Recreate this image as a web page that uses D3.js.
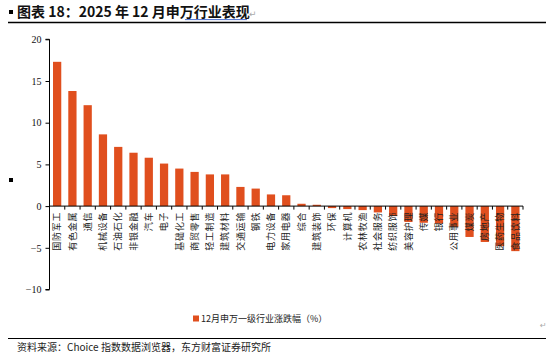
<!DOCTYPE html>
<html><head><meta charset="utf-8">
<script src="https://cdn.jsdelivr.net/npm/d3@7"></script>
<style>
body{margin:0;background:#fff;}
svg{display:block;}
</style></head>
<body>
<svg id="c" width="550" height="355"></svg>
<script>
const categories = ["国防军工","有色金属","通信","机械设备","石油石化","非银金融","汽车","电子","基础化工","商贸零售","轻工制造","建筑材料","交通运输","钢铁","电力设备","家用电器","综合","建筑装饰","环保","计算机","农林牧渔","社会服务","纺织服饰","美容护理","传媒","银行","公用事业","煤炭","房地产","医药生物","食品饮料"];
const values = [17.3,13.8,12.1,8.6,7.1,6.4,5.8,5.1,4.5,4.1,3.8,3.8,2.3,2.1,1.4,1.3,0.28,0.16,-0.24,-0.36,-0.48,-0.76,-1.2,-1.9,-2.0,-2.1,-2.5,-3.7,-4.3,-4.8,-5.4];
const yTicks = [-10,-5,0,5,10,15,20];
const seriesName = "12月申万一级行业涨跌幅（%）";
const title = "图表 18：2025 年 12 月申万行业表现";
const source = "资料来源：Choice 指数数据浏览器，东方财富证券研究所";

const svg = d3.select("#c");
const cjk = "'Noto Sans CJK SC','Noto Sans',sans-serif";
const barColor = "#E04F1E";

const x = d3.scaleBand().domain(categories).range([49.5, 523]).paddingInner(0.46).paddingOuter(0.23);
const y = d3.scaleLinear().domain([-10, 20]).range([289.5, 39.3]);

// title
svg.append("rect").attr("x",9).attr("y",10).attr("width",4).attr("height",4).attr("fill","#000");
const tt = svg.append("text").attr("x",17).attr("y",17).attr("font-family",cjk).attr("font-weight","bold")
  .attr("font-size",14).attr("fill","#111").text(title);
svg.append("line").attr("x1",185).attr("x2",247).attr("y1",19.6).attr("y2",19.6).attr("stroke","#4a6fd0").attr("stroke-width",1);
svg.append("text").attr("x",249).attr("y",17).attr("font-family","'DejaVu Sans',sans-serif").attr("font-size",9).attr("fill","#aaa").text("↵");
svg.append("line").attr("x1",8).attr("x2",546).attr("y1",22.5).attr("y2",22.5).attr("stroke","#000").attr("stroke-width",1.3);

// bars
svg.append("g").selectAll("rect").data(values).join("rect")
  .attr("x",(d,i)=>x(categories[i]))
  .attr("width",x.bandwidth())
  .attr("y",d=>y(Math.max(0,d)))
  .attr("height",d=>Math.abs(y(d)-y(0)))
  .attr("fill",barColor);

// y axis
const yAxis = d3.axisLeft(y).tickValues(yTicks).tickSize(4).tickPadding(4);
const gy = svg.append("g").attr("transform","translate(49.5,0)").call(yAxis);
gy.select(".domain").attr("stroke","#000").attr("d","M-4,39.3H0V289.5H-4");
gy.selectAll(".tick line").attr("stroke","#000");
gy.selectAll(".tick text").attr("font-family","'Liberation Serif','DejaVu Serif',serif").attr("font-size",10).attr("fill","#111");

// x axis line with ticks at band boundaries
const gx = svg.append("g").attr("transform",`translate(0,${y(0)})`);
gx.append("line").attr("x1",49.5).attr("x2",523).attr("y1",0).attr("y2",0).attr("stroke","#000").attr("stroke-width",1);
const bounds = categories.map((c,i)=>x(c) - x.step()*x.paddingInner()/2).concat([523]);
gx.selectAll("line.tk").data(bounds.slice(1)).join("line").attr("class","tk")
  .attr("x1",d=>d).attr("x2",d=>d).attr("y1",0).attr("y2",3.5).attr("stroke","#000");

// category labels (rotated)
svg.append("g").selectAll("text").data(categories).join("text")
  .attr("transform",c=>`translate(${x(c)+x.bandwidth()/2+3.2},${y(0)+5.5}) rotate(-90)`)
  .attr("text-anchor","end")
  .attr("font-family",cjk).attr("font-size",9).attr("fill","#222")
  .attr("letter-spacing",0.8)
  .text(c=>c);

// small marker left
svg.append("rect").attr("x",9).attr("y",178).attr("width",4).attr("height",4).attr("fill","#000");

// legend
const lg = svg.append("g");
lg.append("rect").attr("x",193).attr("y",315.5).attr("width",6).attr("height",6).attr("fill",barColor);
lg.append("text").attr("x",201).attr("y",322).attr("font-family",cjk).attr("font-size",9).attr("fill","#222").text(seriesName);

// bottom line & source
svg.append("line").attr("x1",8).attr("x2",546).attr("y1",338.5).attr("y2",338.5).attr("stroke","#000").attr("stroke-width",1);
svg.append("text").attr("x",17).attr("y",351).attr("font-family",cjk).attr("font-size",10).attr("fill","#222").text(source);
svg.append("text").attr("x",540).attr("y",328).attr("font-family","'DejaVu Sans',sans-serif").attr("font-size",8).attr("fill","#aaa").text("↵");
</script>
</body></html>
